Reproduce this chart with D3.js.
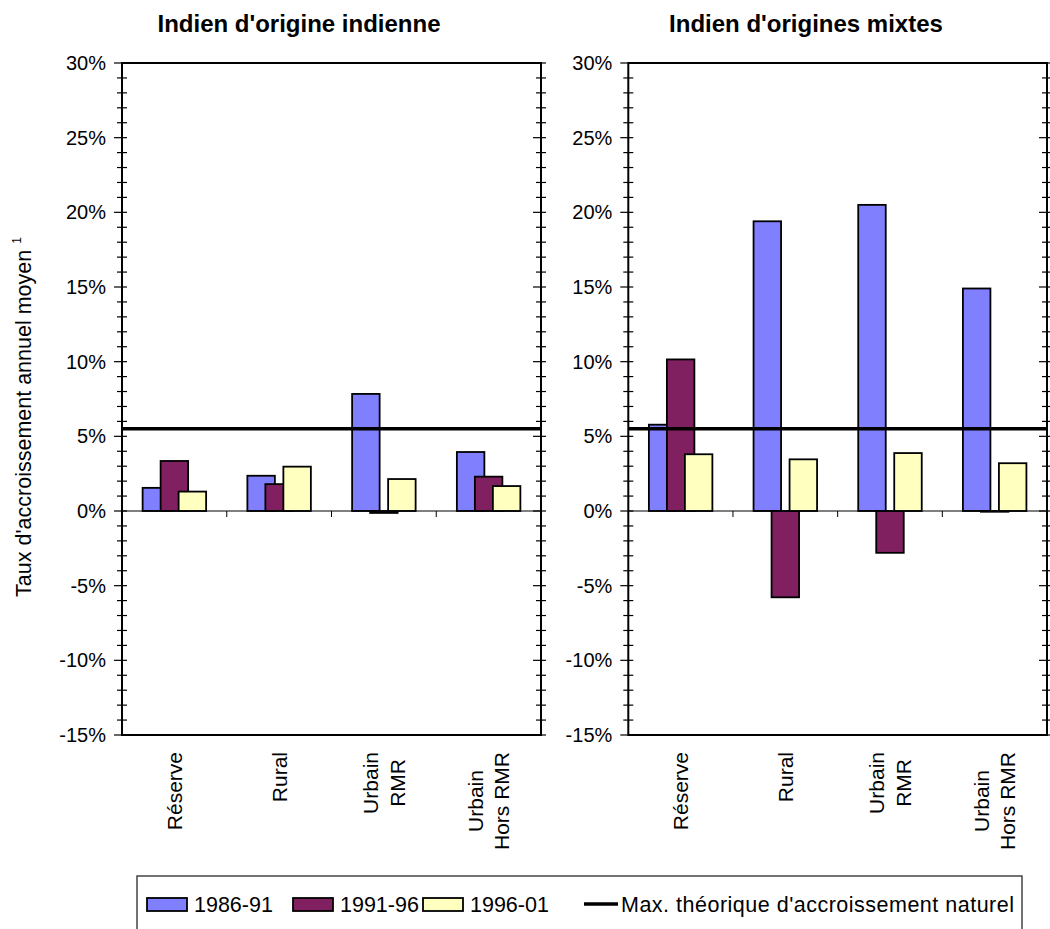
<!DOCTYPE html>
<html>
<head>
<meta charset="utf-8">
<script src="https://cdn.jsdelivr.net/npm/d3@7"></script>
<style>
	body { margin: 0; background: #fff; }
	svg { display: block; font-family: "Liberation Sans", Arial, sans-serif; }
</style>
</head>
<body>
<svg id="chart" width="1050" height="929"></svg>
<script>
// categories (multi-line labels) and series
var categories = [["Réserve"], ["Rural"], ["Urbain", "RMR"], ["Urbain", "Hors RMR"]];
var periods = ["1986-91", "1991-96", "1996-01"];
var colors = ["#8080ff", "#802060", "#ffffc0"];

var indienne_8691 = [1.55, 2.36, 7.84, 3.95];
var indienne_9196 = [3.35, 1.8, -0.13, 2.3];
var indienne_9601 = [1.3, 2.97, 2.14, 1.67];

var mixtes_8691 = [5.78, 19.4, 20.5, 14.9];
var mixtes_9196 = [10.15, -5.78, -2.8, -0.05];
var mixtes_9601 = [3.8, 3.46, 3.88, 3.2];

var maxNaturel = 5.5;
var yTicks = [-15, -10, -5, 0, 5, 10, 15, 20, 25, 30];

var panels = [
	{ title: "Indien d'origine indienne", left: 122, right: 541, titleX: 299,
		series: [indienne_8691, indienne_9196, indienne_9601] },
	{ title: "Indien d'origines mixtes", left: 628.3, right: 1047, titleX: 806,
		series: [mixtes_8691, mixtes_9196, mixtes_9601] }
];

var svg = d3.select("#chart");

var y = d3.scaleLinear()
	.domain([-15, 30])
	.range([735, 63]);

var barW = 27.5, barStep = 18;

function renderPanel(p) {
	var g = svg.append("g");
	var x = d3.scaleBand()
		.domain(d3.range(categories.length))
		.range([p.left, p.right])
		.padding(0);

	// title
	g.append("text")
		.attr("x", p.titleX)
		.attr("y", 32)
		.attr("text-anchor", "middle")
		.attr("font-weight", "bold")
		.attr("font-size", 24)
		.text(p.title);

	// bars, drawn series by series so later ones overlap earlier ones
	p.series.forEach(function(values, si) {
		g.append("g").selectAll("rect")
			.data(values)
			.enter().append("rect")
			.attr("x", function(d, i) {
				return x(i) + x.bandwidth() / 2 + (si - 1) * barStep - barW / 2;
			})
			.attr("y", function(d) { return y(Math.max(0, d)); })
			.attr("width", barW)
			.attr("height", function(d) { return Math.abs(y(d) - y(0)); })
			.attr("fill", colors[si])
			.attr("stroke", "#000")
			.attr("stroke-width", 1.8);
	});

	// zero line and category ticks
	g.append("line")
		.attr("x1", p.left).attr("x2", p.right)
		.attr("y1", y(0)).attr("y2", y(0))
		.attr("stroke", "#000").attr("stroke-width", 1);
	g.append("g").selectAll("line")
		.data(d3.range(1, categories.length))
		.enter().append("line")
		.attr("x1", function(d) { return x(d); })
		.attr("x2", function(d) { return x(d); })
		.attr("y1", y(0)).attr("y2", y(0) + 6)
		.attr("stroke", "#000").attr("stroke-width", 1);

	// max naturel line
	g.append("line")
		.attr("x1", p.left).attr("x2", p.right)
		.attr("y1", y(maxNaturel)).attr("y2", y(maxNaturel))
		.attr("stroke", "#000").attr("stroke-width", 3.5);

	// frame
	g.append("rect")
		.attr("x", p.left).attr("y", y(30))
		.attr("width", p.right - p.left).attr("height", y(-15) - y(30))
		.attr("fill", "none").attr("stroke", "#000").attr("stroke-width", 2);

	// y axis (left) and mirrored ticks on right edge
	var yAxis = d3.axisLeft(y)
		.tickValues(yTicks)
		.tickSize(0)
		.tickPadding(16)
		.tickFormat(function(d) { return d + "%"; });
	var ga = g.append("g")
		.attr("transform", "translate(" + p.left + ",0)")
		.call(yAxis);
	ga.select(".domain").remove();
	ga.selectAll("text")
		.attr("font-size", 20)
		.attr("font-family", "Liberation Sans, Arial, sans-serif")
		.attr("fill", "#000");

	var minor = d3.range(-15, 31);
	[p.left, p.right].forEach(function(ax) {
		g.append("g").selectAll("line")
			.data(minor)
			.enter().append("line")
			.attr("x1", function(d) { return ax - (d % 5 == 0 ? 8 : 5); })
			.attr("x2", ax + 5)
			.attr("y1", function(d) { return y(d); })
			.attr("y2", function(d) { return y(d); })
			.attr("stroke", "#000").attr("stroke-width", 1.2);
	});

	// category labels, rotated, top aligned, lines centered within block
	var lab = g.append("g").selectAll("g")
		.data(categories)
		.enter().append("g");
	lab.each(function(lines, i) {
		var gl = d3.select(this);
		var lh = 26.5;
		var cx = x(i) + x.bandwidth() / 2;
		var texts = lines.map(function(s, k) {
			return gl.append("text")
				.attr("font-size", 21)
				.attr("text-anchor", "middle")
				.text(s);
		});
		var w = d3.max(texts, function(t) { return t.node().getComputedTextLength(); });
		var n = lines.length;
		texts.forEach(function(t, k) {
			var bx = cx + 7.5 + (k - (n - 1) / 2) * lh;
			var by = 752 + w / 2;
			t.attr("transform", "translate(" + bx + "," + by + ") rotate(-90)");
		});
	});
}

panels.forEach(renderPanel);

// y axis title
var yt = svg.append("text")
	.attr("transform", "translate(31,417) rotate(-90)")
	.attr("text-anchor", "middle")
	.attr("font-size", 21.5);
yt.append("tspan").text("Taux d'accroissement annuel moyen ");
yt.append("tspan").attr("font-size", 12).attr("dy", -10).text("1");

// legend
var lg = svg.append("g");
lg.append("rect")
	.attr("x", 137).attr("y", 876)
	.attr("width", 885).attr("height", 70)
	.attr("fill", "#fff").attr("stroke", "#444").attr("stroke-width", 1.5);

var legendX = [147, 293, 423];
periods.forEach(function(name, i) {
	lg.append("rect")
		.attr("x", legendX[i]).attr("y", 898)
		.attr("width", 40).attr("height", 13)
		.attr("fill", colors[i]).attr("stroke", "#000").attr("stroke-width", 1.8);
	lg.append("text")
		.attr("x", legendX[i] + 47).attr("y", 912)
		.attr("font-size", 21.5)
		.text(name);
});
lg.append("line")
	.attr("x1", 584).attr("x2", 618)
	.attr("y1", 904).attr("y2", 904)
	.attr("stroke", "#000").attr("stroke-width", 3.5);
lg.append("text")
	.attr("x", 621).attr("y", 912)
	.attr("font-size", 21.5)
	.attr("textLength", 393)
	.attr("lengthAdjust", "spacing")
	.text("Max. théorique d'accroissement naturel");
</script>
</body>
</html>
